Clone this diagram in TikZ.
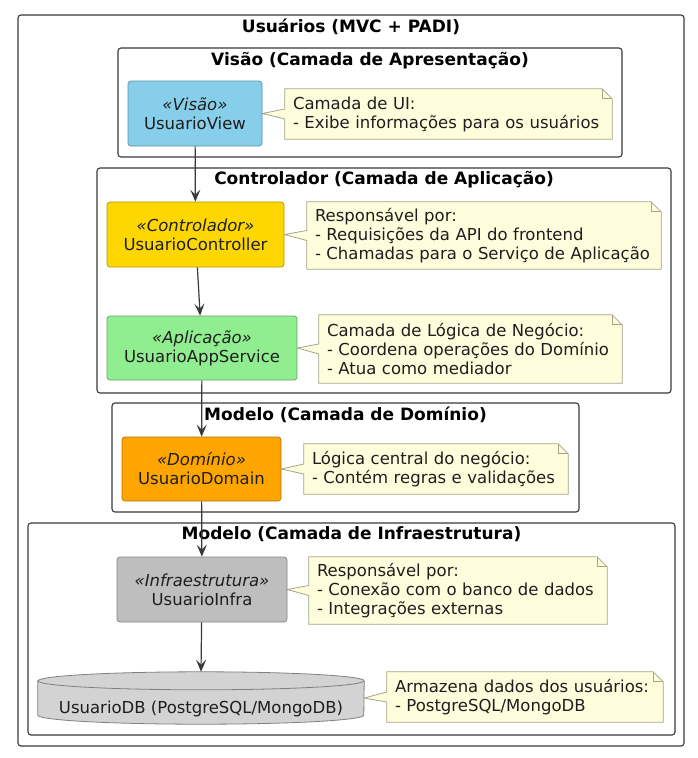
\documentclass[tikz,border=0pt]{standalone}
\usepackage{fontspec}
\setmainfont{DejaVu Sans}
\usetikzlibrary{arrows.meta,backgrounds}

\definecolor{viewblue}{HTML}{87CEEB}
\definecolor{ctrlgold}{HTML}{FFD700}
\definecolor{appgreen}{HTML}{90EE90}
\definecolor{domorange}{HTML}{FFA500}
\definecolor{infragray}{HTML}{BEBEBE}
\definecolor{dbgray}{HTML}{D3D3D3}
\definecolor{notefill}{HTML}{FEFEDC}
\definecolor{noteline}{HTML}{A4A488}
\definecolor{frameline}{HTML}{3A3A3A}
\definecolor{textdark}{HTML}{1E1E1E}

\newcommand{\diagfont}{\fontsize{16.5pt}{19pt}\selectfont}

\tikzset{
  layer/.style={draw=frameline, line width=1.1pt, rounded corners=3pt, inner sep=0pt},
  layertitle/.style={font=\fontsize{17pt}{19pt}\selectfont\bfseries, text=black, inner sep=0pt},
  comp/.style={draw=#1!70!black, fill=#1, line width=0.7pt, rounded corners=3pt,
    align=center, text=textdark, inner sep=0pt, font=\diagfont},
  notebox/.style={align=left, text=textdark, inner xsep=8pt, inner ysep=0pt, font=\diagfont},
  flow/.style={draw=frameline, line width=1.2pt, -{Stealth[length=12pt,width=10pt,inset=5pt]}},
}

% note outline with folded corner and pointer to its component
\newcommand{\notecallout}[2]{%
  \filldraw[fill=notefill, draw=noteline, line width=0.8pt]
    (#1.north west) -- ([xshift=-10pt]#1.north east) -- ([yshift=-10pt]#1.north east)
    -- (#1.south east) -- (#1.south west) -- ([yshift=-5pt]#1.west)
    -- (#2.east) -- ([yshift=5pt]#1.west) -- cycle;
  \draw[noteline, line width=0.8pt] ([xshift=-10pt]#1.north east) |- ([yshift=-10pt]#1.north east);
}

\begin{document}
\begin{tikzpicture}[x=1pt, y=-1pt]
    \useasboundingbox (0,0) rectangle (697,758);

    % layers
    \node[layer, minimum width=666pt, minimum height=731pt] (usuarios) at (351,380.5) {};
    \node[layer, minimum width=504pt, minimum height=109pt] (visao) at (370,102.5) {};
    \node[layer, minimum width=574pt, minimum height=225pt] (controlador) at (384,280.5) {};
    \node[layer, minimum width=467pt, minimum height=109pt] (dominio) at (345.5,457.5) {};
    \node[layer, minimum width=647pt, minimum height=212pt] (infraestrutura) at (351.5,629) {};

    \node[layertitle] at ([yshift=-12pt]usuarios.north) {Usuários (MVC + PADI)};
    \node[layertitle] at ([yshift=-13pt]visao.north) {Visão (Camada de Apresentação)};
    \node[layertitle] at ([yshift=-12pt]controlador.north) {Controlador (Camada de Aplicação)};
    \node[layertitle] at ([yshift=-12pt]dominio.north) {Modelo (Camada de Domínio)};
    \node[layertitle] at ([yshift=-12pt]infraestrutura.north) {Modelo (Camada de Infraestrutura)};

    % components
    \node[comp=viewblue, minimum width=134pt, minimum height=65pt] (view) at (195,113.5)
        {\textit{«Visão»}\\UsuarioView};
    \node[comp=ctrlgold, minimum width=177pt, minimum height=65pt] (controller) at (195.5,234.5)
        {\textit{«Controlador»}\\UsuarioController};
    \node[comp=appgreen, minimum width=190pt, minimum height=64pt] (appservice) at (202,348)
        {\textit{«Aplicação»}\\UsuarioAppService};
    \node[comp=domorange, minimum width=159pt, minimum height=64pt] (domain) at (201.5,469)
        {\textit{«Domínio»}\\UsuarioDomain};
    \node[comp=infragray, minimum width=170pt, minimum height=65pt] (infra) at (202,589.5)
        {\textit{«Infraestrutura»}\\UsuarioInfra};
    \node[inner sep=0pt, minimum width=326pt, minimum height=52pt, text height=34pt, text depth=3.5pt,
        font=\diagfont, text=textdark] (db) at (201,698) {UsuarioDB (PostgreSQL/MongoDB)};

    % notes
    \node[notebox, text width=311pt, minimum height=50pt] (viewnote) at (448.5,114)
        {Camada de UI:\\- Exibe informações para os usuários};
    \node[notebox, text width=338pt, minimum height=67pt] (controllernote) at (484,235.5)
        {Responsável por:\\- Requisições da API do frontend\\- Chamadas para o Serviço de Aplicação};
    \node[notebox, text width=287pt, minimum height=68pt] (appnote) at (470.5,349)
        {Camada de Lógica de Negócio:\\- Coordena operações do Domínio\\- Atua como mediador};
    \node[notebox, text width=248pt, minimum height=50pt] (domainnote) at (436,469)
        {Lógica central do negócio:\\- Contém regras e validações};
    \node[notebox, text width=282pt, minimum height=67pt] (infranote) at (458,590.5)
        {Responsável por:\\- Conexão com o banco de dados\\- Integrações externas};
    \node[notebox, text width=260pt, minimum height=50pt] (dbnote) at (525,697)
        {Armazena dados dos usuários:\\- PostgreSQL/MongoDB};

    \begin{pgfonlayer}{background}
        \fill[white] (0,0) rectangle (697,758);
        \notecallout{viewnote}{view}
        \notecallout{controllernote}{controller}
        \notecallout{appnote}{appservice}
        \notecallout{domainnote}{domain}
        \notecallout{infranote}{infra}
        \notecallout{dbnote}{db}
        % database cylinder
        \filldraw[fill=dbgray, draw=gray, line width=0.8pt]
            ([yshift=-9pt]db.north west) -- ([yshift=9pt]db.south west)
            arc[start angle=180, end angle=360, x radius=163pt, y radius=9pt]
            -- ([yshift=-9pt]db.north east)
            arc[start angle=0, end angle=180, x radius=163pt, y radius=9pt] -- cycle;
        \draw[gray, line width=0.8pt] ([yshift=-9pt]db.north west)
            arc[start angle=180, end angle=360, x radius=163pt, y radius=9pt];
    \end{pgfonlayer}

    % flow
    \draw[flow] (view) -- (controller);
    \draw[flow] (controller) -- (appservice);
    \draw[flow] (appservice) -- (domain);
    \draw[flow] (domain) -- (infra);
    \draw[flow] (infra) -- (db.north);
\end{tikzpicture}
\end{document}
